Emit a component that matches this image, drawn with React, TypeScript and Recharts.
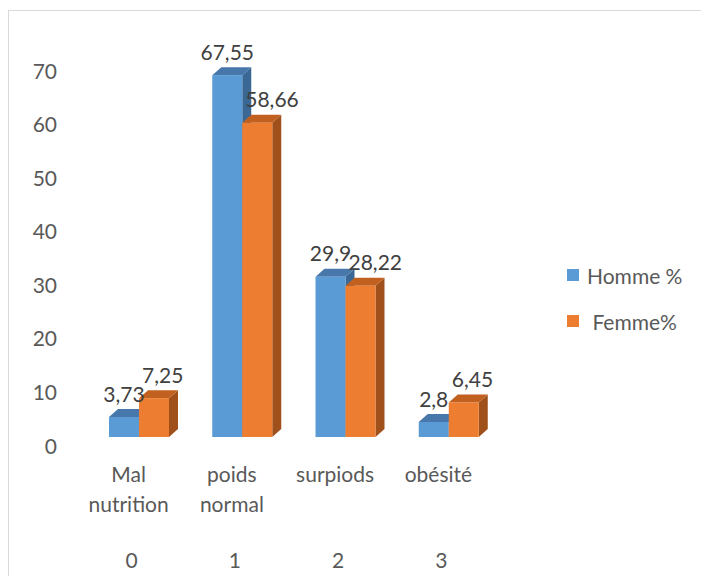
import { BarChart, Bar, XAxis, YAxis, Legend, LabelList } from 'recharts';

const categories = ['Mal nutrition', 'poids normal', 'surpiods', 'obésité'];
const codes = ['0', '1', '2', '3'];
const homme = [3.73, 67.55, 29.9, 2.8];
const femme = [7.25, 58.66, 28.22, 6.45];
const yTicks = [0, 10, 20, 30, 40, 50, 60, 70];
const seriesOrder = ['homme', 'femme'];

const data = categories.map((name, i) => ({
  name,
  homme: homme[i],
  femme: femme[i],
}));

const FONT = 'Lato, "Open Sans", sans-serif';
const BLUE = '#5b9bd5';
const ORANGE = '#ed7d31';
// 3d depth of the bars
const DX = 9;
const DY = 8;

const shades: Record<string, { top: string; side: string }> = {
  [BLUE]: { top: '#4777ab', side: '#3a6794' },
  [ORANGE]: { top: '#c2611f', side: '#a0501b' },
};

function Bar3D(props: any) {
  const { x, y, width: w, height: h, fill } = props;
  if (!w || h == null) return null;
  const s = shades[fill];
  return (
    <g>
      <polygon
        points={`${x + w},${y} ${x + w + DX},${y - DY} ${x + w + DX},${y + h - DY} ${x + w},${y + h}`}
        fill={s.side}
      />
      <polygon
        points={`${x},${y} ${x + DX},${y - DY} ${x + w + DX},${y - DY} ${x + w},${y}`}
        fill={s.top}
      />
      <rect x={x} y={y} width={w} height={h} fill={fill} />
    </g>
  );
}

const fmt = (v: number) => String(v).replace('.', ',');

function makeLabel(anchor: 'middle' | 'start') {
  return (props: any) => {
    const { x, y, width, value } = props;
    const tx = anchor === 'middle' ? x + width / 2 : x + 3;
    return (
      <text
        x={tx}
        y={y - 24}
        textAnchor={anchor}
        dominantBaseline="central"
        fill="#404040"
        fontSize={21}
        fontFamily={FONT}
      >
        {fmt(value)}
      </text>
    );
  };
}

function YTick({ x, y, payload }: any) {
  return (
    <text
      x={x}
      y={y + 8}
      textAnchor="end"
      dominantBaseline="central"
      fill="#595959"
      fontSize={21}
      fontFamily={FONT}
    >
      {payload.value}
    </text>
  );
}

function XTick({ x, y, payload }: any) {
  const words = String(payload.value).split(' ');
  const code = codes[categories.indexOf(payload.value)];
  return (
    <g fill="#595959" fontSize={21} fontFamily={FONT}>
      {words.map((w, i) => (
        <text key={i} x={x - 10} y={y + 28 + i * 30} textAnchor="middle" dominantBaseline="central">
          {w}
        </text>
      ))}
      <text x={x - 7} y={y + 114} textAnchor="middle" dominantBaseline="central">
        {code}
      </text>
    </g>
  );
}

function LegendBox({ payload }: any) {
  const items = [...(payload || [])].sort(
    (a: any, b: any) => seriesOrder.indexOf(a.dataKey) - seriesOrder.indexOf(b.dataKey)
  );
  return (
    <div style={{ fontFamily: FONT, fontSize: 21, color: '#595959' }}>
      {items.map((p: any, i: number) => (
        <div key={i} style={{ display: 'flex', alignItems: 'center', height: 46 }}>
          <span style={{ width: 12, height: 12, background: p.color, marginRight: 8, flex: 'none' }} />
          <span style={{ whiteSpace: 'pre' }}>{p.value}</span>
        </div>
      ))}
    </div>
  );
}

export default function App() {
  return (
    <div style={{ position: 'relative', width: 701, height: 576, background: '#fff' }}>
      <style>{'body{margin:0;overflow:hidden}'}</style>
      <div
        style={{
          position: 'absolute',
          left: 8,
          top: 10,
          right: 0,
          bottom: 0,
          borderTop: '1px solid #d9d9d9',
          borderLeft: '1px solid #d9d9d9',
        }}
      />
      <BarChart
        width={701}
        height={576}
        data={data}
        margin={{ top: 62, right: 201, left: 0, bottom: 0 }}
        barCategoryGap={22}
        barGap={0}
      >
        <XAxis dataKey="name" axisLine={false} tickLine={false} height={139} tick={<XTick />} interval={0} />
        <YAxis
          domain={[0, 70]}
          ticks={yTicks}
          axisLine={false}
          tickLine={false}
          width={87}
          tickMargin={24}
          tick={<YTick />}
        />
        <Legend
          layout="vertical"
          align="center"
          verticalAlign="middle"
          wrapperStyle={{ left: 567, top: 252, width: 134, height: 92 }}
          content={<LegendBox />}
        />
        <Bar dataKey="homme" name="Homme %" fill={BLUE} shape={<Bar3D />} isAnimationActive={false}>
          <LabelList dataKey="homme" content={makeLabel('middle')} />
        </Bar>
        <Bar dataKey="femme" name=" Femme%" fill={ORANGE} shape={<Bar3D />} isAnimationActive={false}>
          <LabelList dataKey="femme" content={makeLabel('start')} />
        </Bar>
      </BarChart>
    </div>
  );
}
